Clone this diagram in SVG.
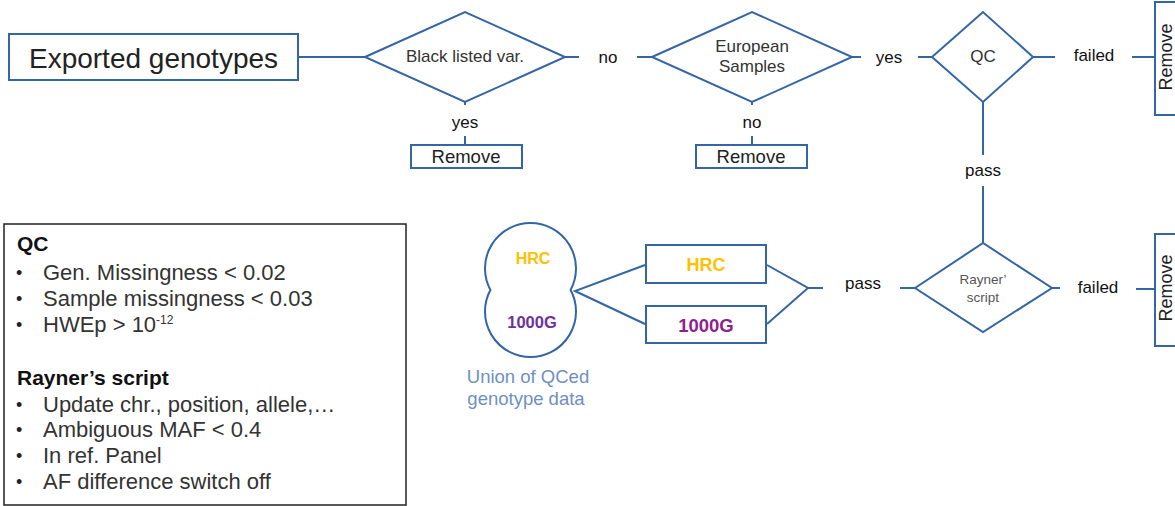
<svg xmlns="http://www.w3.org/2000/svg" width="1175" height="506" viewBox="0 0 1175 506">
  <style>
    .shape { fill: #ffffff; stroke: #3465a4; stroke-width: 2; }
    .wire { fill: none; stroke: #3465a4; stroke-width: 2; }
    .txt { font-family: "Liberation Sans", Arial, sans-serif; }
    .lbl { font-family: "Liberation Sans", Arial, sans-serif; font-size: 17px; fill: #111111; text-anchor: middle; }
    .dtxt { font-family: "Liberation Sans", Arial, sans-serif; font-size: 17px; fill: #333333; text-anchor: middle; }
    .rm { font-family: "Liberation Sans", Arial, sans-serif; font-size: 18.5px; fill: #222222; text-anchor: middle; }
    .rmv { font-family: "Liberation Sans", Arial, sans-serif; font-size: 18px; fill: #222222; text-anchor: middle; }
    .leg { font-family: "Liberation Sans", Arial, sans-serif; font-size: 22px; fill: #333333; }
    .bul { font-family: "Liberation Sans", Arial, sans-serif; font-size: 18px; fill: #222222; }
    .legh { font-family: "Liberation Sans", Arial, sans-serif; font-size: 21px; font-weight: bold; fill: #111111; }
    .hrc { fill: #ffc000; font-weight: bold; text-anchor: middle; }
  </style>
  <rect width="1175" height="506" fill="#ffffff"/>

  <!-- connectors -->
  <g id="connectors">
    <line class="wire" x1="298" y1="57" x2="365" y2="57"/>
    <line class="wire" x1="565" y1="57" x2="579" y2="57"/>
    <line class="wire" x1="637" y1="57" x2="652" y2="57"/>
    <line class="wire" x1="852" y1="57" x2="861" y2="57"/>
    <line class="wire" x1="918" y1="57" x2="932" y2="57"/>
    <line class="wire" x1="1033" y1="57" x2="1055" y2="57"/>
    <line class="wire" x1="1132" y1="57" x2="1155" y2="57"/>
    <line class="wire" x1="465" y1="102" x2="465" y2="105"/>
    <line class="wire" x1="465" y1="136" x2="465" y2="145"/>
    <line class="wire" x1="752" y1="102" x2="752" y2="105"/>
    <line class="wire" x1="752" y1="136" x2="752" y2="145"/>
    <line class="wire" x1="983" y1="102" x2="983" y2="155"/>
    <line class="wire" x1="983" y1="186" x2="983" y2="243"/>
    <line class="wire" x1="1052" y1="288" x2="1060" y2="288"/>
    <line class="wire" x1="1136" y1="289" x2="1155" y2="289"/>
    <line class="wire" x1="900" y1="288" x2="915" y2="288"/>
    <line class="wire" x1="808" y1="288" x2="823" y2="288"/>
    <polyline class="wire" points="767,265 808,288 767,324"/>
    <polyline class="wire" points="645,265 575,291 645,324"/>
  </g>

  <!-- edge labels -->
  <g id="edge-labels">
    <text class="lbl" x="608" y="63">no</text>
    <text class="lbl" x="889" y="63">yes</text>
    <text class="lbl" x="1094" y="61">failed</text>
    <text class="lbl" x="465" y="128">yes</text>
    <text class="lbl" x="752" y="128">no</text>
    <text class="lbl" x="983" y="176">pass</text>
    <text class="lbl" x="863" y="289">pass</text>
    <text class="lbl" x="1098" y="293">failed</text>
  </g>

  <g id="exported">
    <rect class="shape" x="9" y="34" width="289" height="46"/>
    <text class="txt" x="153.5" y="68" font-size="28" fill="#222222" text-anchor="middle">Exported genotypes</text>
  </g>

  <g id="blacklisted">
    <polygon class="shape" points="365,57 465,12 565,57 465,102"/>
    <text class="dtxt" x="465" y="62">Black listed var.</text>
  </g>

  <g id="remove-blacklisted">
    <rect class="shape" x="411" y="145" width="111" height="23"/>
    <text class="rm" x="466" y="163">Remove</text>
  </g>

  <g id="european">
    <polygon class="shape" points="652,57 752,12 852,57 752,102"/>
    <text class="dtxt" x="752" y="52">European</text>
    <text class="dtxt" x="752" y="72">Samples</text>
  </g>

  <g id="remove-european">
    <rect class="shape" x="696" y="145" width="111" height="23"/>
    <text class="rm" x="751" y="163">Remove</text>
  </g>

  <g id="qc">
    <polygon class="shape" points="932,57 983,12 1033,57 983,102"/>
    <text class="dtxt" x="983" y="62">QC</text>
  </g>

  <g id="remove-qc">
    <rect class="shape" x="1155" y="2" width="40" height="113"/>
    <text class="rmv" transform="translate(1171.5,57) rotate(-90)">Remove</text>
  </g>

  <g id="rayner">
    <polygon class="shape" points="915,288 983,243 1052,288 983,332"/>
    <text class="txt" x="983" y="284" font-size="13.5" fill="#555555" text-anchor="middle">Rayner’</text>
    <text class="txt" x="983" y="302" font-size="13.5" fill="#555555" text-anchor="middle">script</text>
  </g>

  <g id="remove-rayner">
    <rect class="shape" x="1155" y="234" width="40" height="112"/>
    <text class="rmv" transform="translate(1171.5,288) rotate(-90)">Remove</text>
  </g>

  <g id="hrc-panel">
    <rect class="shape" x="646" y="245" width="120" height="38"/>
    <text class="txt hrc" x="706" y="271" font-size="18">HRC</text>
  </g>

  <g id="kg-panel">
    <rect class="shape" x="646" y="306" width="120" height="37"/>
    <text class="txt" x="706" y="332" font-size="18.5" font-weight="bold" fill="#8e1f8e" text-anchor="middle">1000G</text>
  </g>

  <g id="union">
    <path class="shape" d="M490.4,290 A45.5,45.5 0 1 1 570.6,290 A45.5,45.5 0 1 1 490.4,290 Z"/>
    <text class="txt hrc" x="533" y="264" font-size="16">HRC</text>
    <text class="txt" x="532" y="328" font-size="16.5" font-weight="bold" fill="#7030a0" text-anchor="middle">1000G</text>
    <text class="txt" x="528" y="383" font-size="18.5" fill="#6f8fc4" text-anchor="middle">Union of QCed</text>
    <text class="txt" x="526" y="405" font-size="18.5" fill="#6f8fc4" text-anchor="middle">genotype data</text>
  </g>

  <g id="legend">
    <rect x="4" y="224" width="402" height="281" fill="#ffffff" stroke="#222222" stroke-width="1.5"/>
    <text class="legh" x="17" y="251">QC</text>
    <g>
      <text class="bul" x="16" y="279">•</text>
      <text class="leg" x="43" y="280">Gen. Missingness &lt; 0.02</text>
      <text class="bul" x="16" y="305">•</text>
      <text class="leg" x="43" y="306">Sample missingness &lt; 0.03</text>
      <text class="bul" x="16" y="331">•</text>
      <text class="leg" x="43" y="332">HWEp &gt; 10<tspan font-size="12" dy="-8">-12</tspan></text>
    </g>
    <text class="legh" x="17" y="385">Rayner’s script</text>
    <g>
      <text class="bul" x="16" y="411">•</text>
      <text class="leg" x="43" y="412">Update chr., position, allele,…</text>
      <text class="bul" x="16" y="436">•</text>
      <text class="leg" x="43" y="437">Ambiguous MAF &lt; 0.4</text>
      <text class="bul" x="16" y="462">•</text>
      <text class="leg" x="43" y="463">In ref. Panel</text>
      <text class="bul" x="16" y="488">•</text>
      <text class="leg" x="43" y="489">AF difference switch off</text>
    </g>
  </g>
</svg>
